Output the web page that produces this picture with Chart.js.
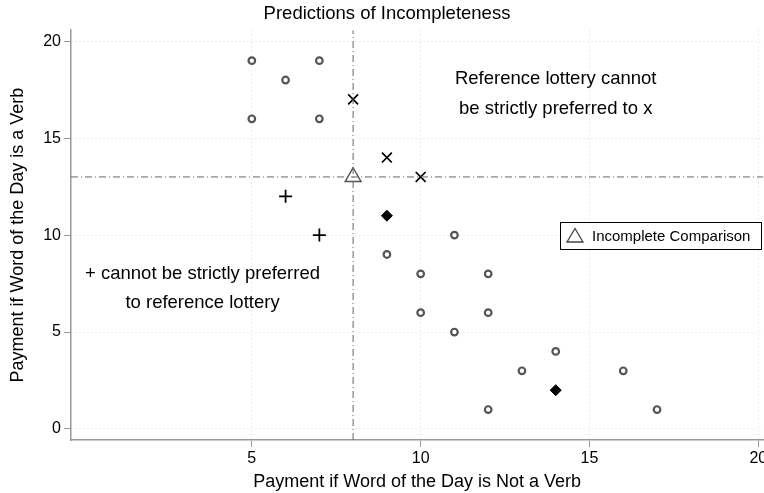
<!DOCTYPE html>
<html>
<head>
<meta charset="utf-8">
<script src="https://cdn.jsdelivr.net/npm/chart.js@4/dist/chart.umd.min.js"></script>
<style>
  html, body { margin: 0; padding: 0; background: #fff; overflow: hidden; width: 764px; height: 493px; }
  #wrap { width: 774px; height: 493px; }
</style>
</head>
<body>
<div id="wrap"><canvas id="chart"></canvas></div>
<script>
// Chart data
const circleX = [5, 6, 7, 5, 7, 9, 10, 10, 11, 11, 12, 12, 12, 13, 14, 16, 17];
const circleY = [19, 18, 19, 16, 16, 9, 8, 6, 10, 5, 8, 6, 1, 3, 4, 3, 1];
const diamondX = [9, 14];
const diamondY = [11, 2];
const crossX = [8, 9, 10];
const crossY = [17, 14, 13];
const plusX = [6, 7];
const plusY = [12, 10];
const refX = [8];
const refY = [13];
const xTicks = [5, 10, 15, 20];
const yTicks = [0, 5, 10, 15, 20];
const xRange = [-0.355, 20.15];
const yRange = [-0.57, 20.57];

const FONT = "'Liberation Sans', Arial, Helvetica, sans-serif";

function toPoints(xs, ys) {
    return xs.map(function(x, i) { return { x: x, y: ys[i] }; });
}

// Annotation texts and the in-plot legend box
const annotatePlugin = {
    id: 'annotate',
    afterDatasetsDraw: function(chart) {
        const ctx = chart.ctx;
        const xs = chart.scales.x;
        const ys = chart.scales.y;
        ctx.save();
        ctx.fillStyle = '#000';
        ctx.font = '18.5px ' + FONT;
        ctx.textAlign = 'center';
        ctx.textBaseline = 'middle';
        ctx.fillText('Reference lottery cannot', xs.getPixelForValue(14.0), ys.getPixelForValue(18.07));
        ctx.fillText('be strictly preferred to x', xs.getPixelForValue(14.0), ys.getPixelForValue(16.52));
        ctx.fillText('+ cannot be strictly preferred', xs.getPixelForValue(3.54), ys.getPixelForValue(8.0));
        ctx.fillText('to reference lottery', xs.getPixelForValue(3.54), ys.getPixelForValue(6.5));

        // legend box
        const bx = 560.5, by = 222.5, bw = 201, bh = 27;
        ctx.fillStyle = '#fff';
        ctx.fillRect(bx, by, bw, bh);
        ctx.strokeStyle = '#000';
        ctx.lineWidth = 1;
        ctx.strokeRect(bx, by, bw, bh);
        ctx.strokeStyle = '#444';
        ctx.lineWidth = 1.3;
        ctx.beginPath();
        ctx.moveTo(575, 228.5);
        ctx.lineTo(583, 242);
        ctx.lineTo(567, 242);
        ctx.closePath();
        ctx.stroke();
        ctx.fillStyle = '#000';
        ctx.font = '15px ' + FONT;
        ctx.textAlign = 'left';
        ctx.fillText('Incomplete Comparison', 592, by + bh / 2 + 0.5);
        ctx.restore();
    }
};

const refLineStyle = {
    type: 'line',
    showLine: true,
    borderColor: '#666',
    borderWidth: 1,
    borderDash: [7, 3, 1, 3],
    pointRadius: 0,
    fill: false
};

new Chart(document.getElementById('chart'), {
    type: 'scatter',
    data: {
        datasets: [
            Object.assign({ label: 'vline', data: [{ x: refX[0], y: yRange[0] }, { x: refX[0], y: yRange[1] }] }, refLineStyle),
            Object.assign({ label: 'hline', data: [{ x: xRange[0], y: refY[0] }, { x: xRange[1], y: refY[0] }] }, refLineStyle),
            {
                label: 'Options',
                data: toPoints(circleX, circleY),
                pointStyle: 'circle',
                radius: 3.3,
                borderWidth: 2.2,
                borderColor: '#555',
                backgroundColor: '#fff'
            },
            {
                label: 'Diamond',
                data: toPoints(diamondX, diamondY),
                pointStyle: 'rectRot',
                radius: 5.5,
                borderWidth: 1,
                borderColor: '#000',
                backgroundColor: '#000'
            },
            {
                label: 'Cross',
                data: toPoints(crossX, crossY),
                pointStyle: 'crossRot',
                radius: 7,
                borderWidth: 1.7,
                borderColor: '#000'
            },
            {
                label: 'Plus',
                data: toPoints(plusX, plusY),
                pointStyle: 'cross',
                radius: 6.5,
                borderWidth: 1.8,
                borderColor: '#000'
            },
            {
                label: 'Incomplete Comparison',
                data: toPoints(refX, refY),
                pointStyle: 'triangle',
                radius: 9.2,
                borderWidth: 1.4,
                borderColor: '#555',
                backgroundColor: 'rgba(0,0,0,0)'
            }
        ]
    },
    options: {
        responsive: true,
        maintainAspectRatio: false,
        animation: false,
        layout: { padding: 0 },
        plugins: {
            legend: { display: false },
            tooltip: { enabled: false },
            title: {
                display: true,
                text: 'Predictions of Incompleteness',
                color: '#000',
                font: { family: FONT, size: 18.5, weight: 'normal', lineHeight: 1.2 },
                padding: { top: 3, bottom: 5 }
            }
        },
        scales: {
            x: {
                type: 'linear',
                min: xRange[0],
                max: xRange[1],
                afterBuildTicks: function(scale) {
                    scale.ticks = xTicks.map(function(v) { return { value: v }; });
                },
                grid: { color: '#d8d8d8', tickColor: '#999', tickLength: 7, lineWidth: 1 },
                border: { color: '#999', width: 1.5, dash: [1, 3] },
                ticks: { color: '#000', padding: 3, font: { family: FONT, size: 16, lineHeight: 1.1 }, maxRotation: 0 },
                title: {
                    display: true,
                    text: 'Payment if Word of the Day is Not a Verb',
                    color: '#000',
                    font: { family: FONT, size: 18, lineHeight: 1.1 },
                    padding: { top: 1.5, bottom: 1.1 }
                }
            },
            y: {
                type: 'linear',
                min: yRange[0],
                max: yRange[1],
                afterBuildTicks: function(scale) {
                    scale.ticks = yTicks.map(function(v) { return { value: v }; });
                },
                afterFit: function(scale) {
                    scale.paddingTop = 0;
                    scale.paddingBottom = 0;
                },
                grid: { color: '#d8d8d8', tickColor: '#999', tickLength: 7, lineWidth: 1 },
                border: { color: '#999', width: 1.5, dash: [1, 3] },
                ticks: { color: '#000', padding: 3, font: { family: FONT, size: 16, lineHeight: 1.1 } },
                title: {
                    display: true,
                    text: 'Payment if Word of the Day is a Verb',
                    color: '#000',
                    font: { family: FONT, size: 18, lineHeight: 1.1 },
                    padding: { top: 8.1, bottom: 12.3 }
                }
            }
        }
    },
    plugins: [annotatePlugin]
});
</script>
</body>
</html>
